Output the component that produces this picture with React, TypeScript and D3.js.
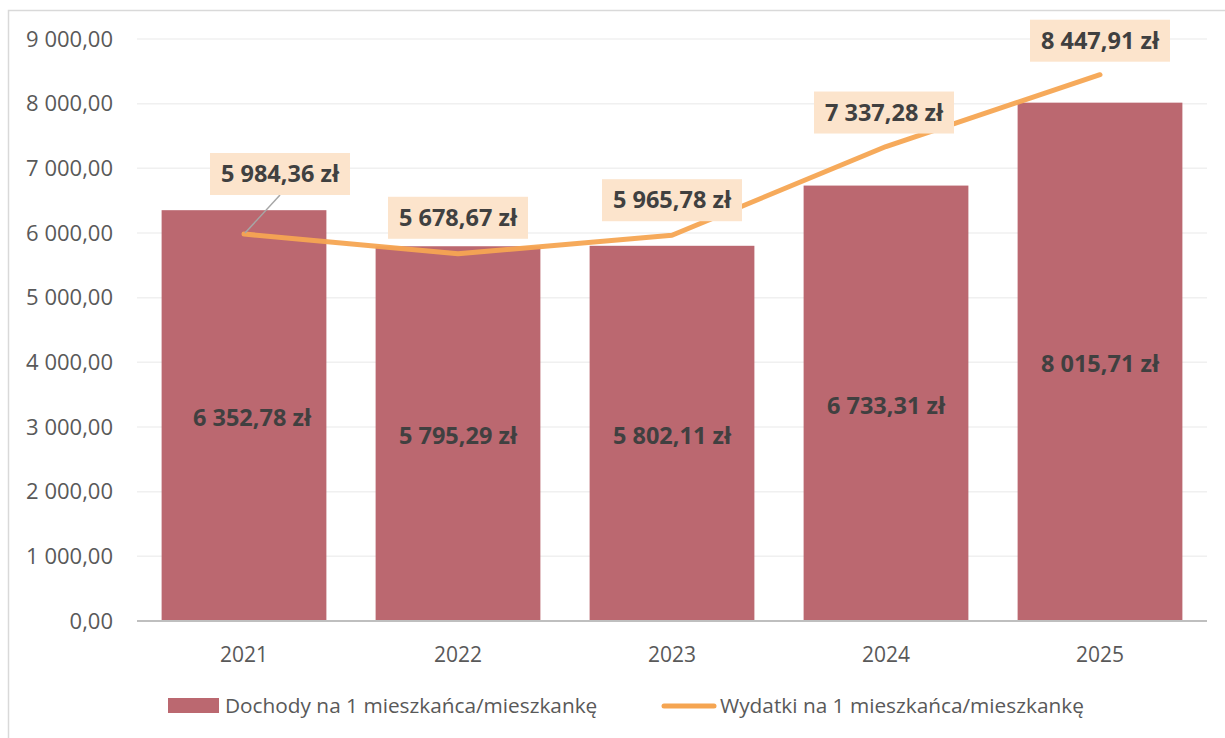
import * as d3 from 'd3';

const years = ['2021', '2022', '2023', '2024', '2025'];
const dochody = [6352.78, 5795.29, 5802.11, 6733.31, 8015.71];
const wydatki = [5984.36, 5678.67, 5965.78, 7337.28, 8447.91];
const yTicks = [0, 1000, 2000, 3000, 4000, 5000, 6000, 7000, 8000, 9000];
const seriesNames = ['Dochody na 1 mieszkańca/mieszkankę', 'Wydatki na 1 mieszkańca/mieszkankę'];

const W = 1225;
const H = 738;
const margin = { top: 39, right: 18, bottom: 117, left: 137 };
const barColor = '#BB6870';
const lineColor = '#F5A552';
const textColor = '#595959';
const labelColor = '#404040';
const font = '"Open Sans", sans-serif';

// label offsets for the line labels (the first one was dragged away in the original)
const labelOffsets = [
  { dx: 36, dy: -60 },
  { dx: 0, dy: -36 },
  { dx: 0, dy: -35 },
  { dx: -2, dy: -34 },
  { dx: 0, dy: -34 },
];

const fmt = (v: number) => {
  const [i, d] = v.toFixed(2).split('.');
  const int = i.replace(/\B(?=(\d{3})+(?!\d))/g, ' ');
  return `${int},${d}`;
};

export default function App() {
  const x = d3.scaleBand<string>()
    .domain(years)
    .range([margin.left, W - margin.right])
    .paddingInner(0.23)
    .paddingOuter(0.115);

  const y = d3.scaleLinear()
    .domain([0, 9000])
    .range([H - margin.bottom, margin.top]);

  const cx = (i: number) => (x(years[i]) || 0) + x.bandwidth() / 2;

  const line = d3.line<number>()
    .x((_, i) => cx(i))
    .y(d => y(d));

  const boxW = 140;
  const boxH = 42;
  const lblSize = 23.5;

  return (
    <div style={{ position: 'absolute', left: 0, top: 0 }}>
      <svg width={W} height={H} style={{ display: 'block', fontFamily: font }}>
        <rect x={0} y={0} width={W} height={H} fill="#fff" />
        <rect x={8.5} y={10.5} width={W} height={H} fill="none" stroke="#D9D9D9" strokeWidth={1.5} />

        {/* grid */}
        {yTicks.filter(t => t > 0).map(t => (
          <line key={t} x1={margin.left} x2={W - margin.right} y1={y(t)} y2={y(t)} stroke="#F0F0F0" strokeWidth={1.5} />
        ))}

        {/* y axis labels */}
        {yTicks.map(t => (
          <text key={t} x={113} y={y(t)} dy="0.35em" textAnchor="end" fontSize={22} fill={textColor}>
            {fmt(t)}
          </text>
        ))}

        {/* bars */}
        {dochody.map((v, i) => (
          <rect key={years[i]} x={x(years[i])} y={y(v)} width={x.bandwidth()} height={y(0) - y(v)} fill={barColor} />
        ))}

        {/* x axis */}
        <line x1={margin.left} x2={W - margin.right} y1={y(0)} y2={y(0)} stroke="#BFBFBF" strokeWidth={2} />
        {years.map((yr, i) => (
          <text key={yr} x={cx(i)} y={y(0) + 34} dy="0.35em" textAnchor="middle" fontSize={21} fill={textColor}>
            {yr}
          </text>
        ))}

        {/* bar labels */}
        {dochody.map((v, i) => (
          <text key={years[i]} x={cx(i) + (i === 0 ? 8 : 0)} y={(y(v) + y(0)) / 2 + 2} dy="0.35em" textAnchor="middle"
            fontSize={lblSize} fontWeight={700} fill={labelColor}>
            {fmt(v)} zł
          </text>
        ))}

        {/* line */}
        <path d={line(wydatki) || ''} fill="none" stroke={lineColor} strokeWidth={5} strokeLinecap="round" strokeLinejoin="round" opacity={0.95} />

        {/* leader line for dragged label */}
        {wydatki.map((v, i) => {
          const o = labelOffsets[i];
          if (Math.abs(o.dy) < 50) return null;
          return (
            <line key={years[i]} x1={cx(i) + 1} y1={y(v) - 1} x2={cx(i) + o.dx} y2={y(v) + o.dy + boxH / 2}
              stroke="#A6A6A6" strokeWidth={1.5} />
          );
        })}

        {/* line labels */}
        {wydatki.map((v, i) => {
          const o = labelOffsets[i];
          const lx = cx(i) + o.dx;
          const ly = y(v) + o.dy;
          return (
            <g key={years[i]}>
              <rect x={lx - boxW / 2} y={ly - boxH / 2} width={boxW} height={boxH} fill="#FCE4CC" />
              <text x={lx} y={ly} dy="0.35em" textAnchor="middle" fontSize={lblSize} fontWeight={700} fill={labelColor}>
                {fmt(v)} zł
              </text>
            </g>
          );
        })}

        {/* legend */}
        <rect x={168} y={698} width={51} height={15} fill={barColor} />
        <text x={225} y={706} dy="0.35em" fontSize={20.8} fill={textColor}>{seriesNames[0]}</text>
        <line x1={664} x2={714} y1={706} y2={706} stroke={lineColor} strokeWidth={5} strokeLinecap="round" />
        <text x={720} y={706} dy="0.35em" fontSize={20.8} fill={textColor}>{seriesNames[1]}</text>
      </svg>
    </div>
  );
}
